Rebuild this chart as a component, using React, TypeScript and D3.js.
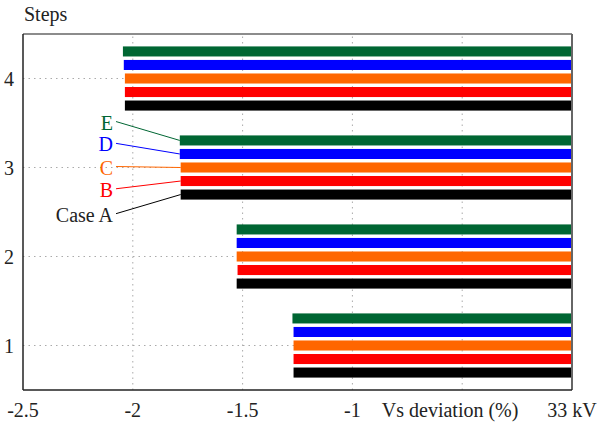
import React from "react";
import * as d3 from "d3";

// Steps on the vertical axis
const steps = [1, 2, 3, 4];
// Cases, drawn top to bottom inside each step group: E, D, C, B, A
const cases = ["Case A", "B", "C", "D", "E"];
const caseColors = ["#000000", "#ff0000", "#ff6600", "#0000ff", "#006633"];
const labelColors = ["#222222", "#ff0000", "#ff6600", "#0000ff", "#006633"];
// Left end of each bar (Vs deviation, %), per step, per case A..E
const deviation: number[][] = [
  [-1.268, -1.268, -1.268, -1.268, -1.273], // step 1
  [-1.527, -1.523, -1.527, -1.527, -1.527], // step 2
  [-1.782, -1.782, -1.782, -1.786, -1.786], // step 3
  [-2.036, -2.036, -2.036, -2.041, -2.045], // step 4
];
const xTicks = [-2.5, -2, -1.5, -1, -0.5, 0];
const xTickLabels = ["-2.5", "-2", "-1.5", "-1", "", "33 kV"];
const xTitle = "Vs deviation (%)";
const yTitle = "Steps";
// Case labels (x, y in data units) pointing at the step-3 group
const labelX = [-2.09, -2.09, -2.09, -2.09, -2.09];
const labelY = [2.47, 2.75, 3.0, 3.26, 3.505];

const W = 599;
const H = 423;
const m = { left: 23, right: 27, top: 34, bottom: 33 };

export default function App() {
  const x = d3.scaleLinear().domain([-2.5, 0]).range([m.left, W - m.right]);
  const y = d3.scaleLinear().domain([0.5, 4.5]).range([H - m.bottom, m.top]);
  const offset = 0.152;
  const barH = y(0) - y(0.113);
  const font = "'Liberation Serif', 'Times New Roman', serif";
  const fs = 20;

  const rows: { s: number; c: number; v: number }[] = [];
  steps.forEach((s, si) =>
    cases.forEach((_, ci) => rows.push({ s, c: ci, v: deviation[si][ci] }))
  );
  const cy = (s: number, c: number) => y(s + (c - 2) * offset);

  return (
    <svg
      width={W}
      height={H}
      style={{ position: "absolute", left: 0, top: 0, background: "#fff" }}
      fontFamily={font}
    >
      {/* grid */}
      <g stroke="#aaa" strokeWidth={1} strokeDasharray="1.5,4">
        {xTicks.slice(1, -1).map((t) => (
          <line key={"gx" + t} x1={x(t)} x2={x(t)} y1={y(0.5)} y2={y(4.5)} />
        ))}
        {steps.map((s) => (
          <line key={"gy" + s} x1={x(-2.5)} x2={x(0)} y1={y(s)} y2={y(s)} />
        ))}
      </g>

      {/* bars */}
      {rows.map((r) => (
        <rect
          key={r.s + "-" + r.c}
          x={x(r.v)}
          width={x(0) - x(r.v)}
          y={cy(r.s, r.c) - barH / 2}
          height={barH}
          fill={caseColors[r.c]}
        />
      ))}

      {/* frame */}
      <line x1={x(-2.5)} x2={x(0)} y1={y(4.5)} y2={y(4.5)} stroke="#666" strokeWidth={1.5} />
      <line x1={x(0)} x2={x(0)} y1={y(4.5)} y2={y(0.5)} stroke="#666" strokeWidth={2} />
      <line x1={x(-2.5)} x2={x(-2.5)} y1={y(4.5)} y2={y(0.5)} stroke="#222" strokeWidth={1.5} />
      <line x1={x(-2.5)} x2={x(0)} y1={y(0.5)} y2={y(0.5)} stroke="#222" strokeWidth={1.5} />

      {/* case labels and leaders */}
      {cases.map((c, ci) => (
        <g key={"lab" + c}>
          <line
            x1={x(labelX[ci]) + 3}
            y1={y(labelY[ci]) - 1}
            x2={x(deviation[2][ci])}
            y2={cy(3, ci)}
            stroke={caseColors[ci]}
            strokeWidth={1}
          />
          <text
            x={x(labelX[ci])}
            y={y(labelY[ci])}
            textAnchor="end"
            dominantBaseline="central"
            fontSize={fs}
            fill={labelColors[ci]}
          >
            {c}
          </text>
        </g>
      ))}

      {/* x tick labels */}
      {xTicks.map((t, i) => (
        <text
          key={"xt" + t}
          x={x(t)}
          y={H - m.bottom + 27}
          textAnchor="middle"
          fontSize={fs}
          fill="#222"
        >
          {xTickLabels[i]}
        </text>
      ))}
      <text x={x(-0.555)} y={H - m.bottom + 27} textAnchor="middle" fontSize={fs} fill="#222">
        {xTitle}
      </text>

      {/* y tick labels */}
      {steps.map((s) => (
        <text
          key={"yt" + s}
          x={m.left - 9}
          y={y(s)}
          textAnchor="end"
          dominantBaseline="central"
          fontSize={fs}
          fill="#222"
        >
          {s}
        </text>
      ))}
      <text x={m.left + 1} y={21} fontSize={fs} fill="#222">
        {yTitle}
      </text>
    </svg>
  );
}
